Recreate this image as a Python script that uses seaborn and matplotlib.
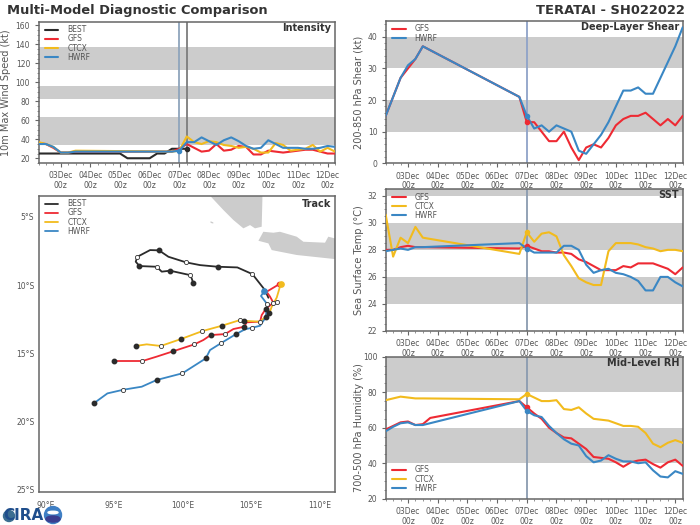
import matplotlib

matplotlib.use("Agg")

import matplotlib.pyplot as plt
import matplotlib.ticker as mticker
import pandas as pd
import seaborn as sns
from matplotlib.patches import Circle, Ellipse

RED = "#EE2A33"
GOLD = "#F2BB1D"
BLUE = "#3A87C4"
BLACK = "#2B2B2B"
GRAY_TEXT = "#555555"
BAND = "#CCCCCC"
TICK_SIZE = 5.5

# 6-hourly times as day of December, data gap between 3.5 and 6.75
days = [2.25, 2.5, 2.75, 3, 3.25, 3.5, 6.75, 7, 7.25, 7.5, 7.75, 8, 8.25, 8.5, 8.75, 9, 9.25,
        9.5, 9.75, 10, 10.25, 10.5, 10.75, 11, 11.25, 11.5, 11.75, 12, 12.25]
tick_days = [3, 4, 5, 6, 7, 8, 9, 10, 11, 12]
tick_labels = ["03Dec\n00z", "04Dec\n00z", "05Dec\n00z", "06Dec\n00z", "07Dec\n00z",
               "08Dec\n00z", "09Dec\n00z", "10Dec\n00z", "11Dec\n00z", "12Dec\n00z"]

best_days = [2.25, 5, 5.25, 6, 6.25, 6.5, 6.75, 7, 7.25]
best_wind = [25, 25, 20, 20, 25, 25, 30, 30, 30]
gfs_wind = [36, 35, 31, 26, 26, 27, 27, 30, 35, 31, 27, 28, 35, 28, 29, 33, 32, 24, 24, 28, 27,
            26, 27, 28, 29, 29, 27, 25, 25]
ctcx_wind = [37, 35, 32, 26, 26, 28, 27, 28, 43, 37, 35, 38, 37, 34, 33, 31, 32, 30, 26, 26, 36,
             34, 28, 29, 30, 34, 27, 31, 27]
hwrf_wind = [35, 35, 32, 26, 26, 27, 27, 28, 37, 37, 42, 38, 34, 39, 42, 38, 33, 30, 31, 39, 35,
             31, 31, 31, 30, 30, 31, 33, 32]

gfs_shear = [15, 21, 27, 30, 33, 37, 21, 13, 13, 10, 7, 7, 10, 5, 1, 5, 6, 5, 8, 12, 14, 15, 15,
             16, 14, 12, 14, 12, 15]
hwrf_shear = [15, 21, 27, 31, 33, 37, 21, 15, 11, 12, 10, 12, 11, 10, 4, 3, 6, 9, 13, 18, 23, 23,
              24, 22, 22, 27, 32, 37, 43]

gfs_sst = [28, 28, 28.2, 28.3, 28.2, 28.2, 28.1, 28.3, 28.1, 27.9, 27.9, 27.8, 27.8, 27.7, 27.3,
           27.1, 26.8, 26.5, 26.5, 26.5, 26.8, 26.7, 27, 27, 27, 26.8, 26.6, 26.2, 26.7]
ctcx_sst = [30.6, 27.5, 28.9, 28.5, 29.7, 28.9, 27.7, 29.3, 28.6, 29.2, 29.3, 29, 27.6, 26.8,
            25.9, 25.6, 25.4, 25.4, 27.9, 28.5, 28.5, 28.5, 28.4, 28.2, 28.1, 27.9, 28, 28, 27.9]
hwrf_sst = [27.9, 28, 28.1, 28, 28.2, 28.2, 28.5, 28.1, 27.8, 27.8, 27.8, 27.8, 28.3, 28.3, 28,
            26.9, 26.3, 26.5, 26.6, 26.3, 26.2, 26, 25.7, 25, 25, 26, 26, 25.6, 25.3]

gfs_rh_days = [2.25, 2.5, 2.75, 3, 3.25, 3.5, 3.75] + days[6:]
gfs_rh = [59, 61, 63, 63.5, 61.5, 62, 65.5, 75, 71.5, 68, 65, 60, 57, 54.5, 54, 51, 48, 43.5, 43,
          42.5, 40.5, 38, 40.5, 41.5, 42, 39.5, 37.5, 40.5, 42, 38.5]
ctcx_rh = [75.5, 76.5, 77.5, 77, 76.5, 76.5, 76, 79, 77, 75, 75, 75.5, 70.5, 70, 71.5, 68, 65,
           64.5, 64, 62.5, 61, 61, 60.5, 57, 51, 49, 51.5, 53, 51.5]
hwrf_rh = [58, 60.5, 62.5, 63, 61.5, 61.5, 75, 69.5, 67, 66, 61, 57, 53.5, 51, 50, 44, 40.5, 41.5,
           44.5, 42.5, 41, 41, 40, 40.5, 36, 32.5, 32, 35.5, 34]

# track points, kind: 0 plain vertex, 1 open circle, 2 filled circle
best_lon = [106.28, 106.03, 105.11, 104.01, 102.57, 101.28, 100.26, 98.97, 98.28, 97.63, 96.70,
            96.58, 96.85, 98.11, 98.48, 99.09, 100.55, 100.67, 100.79]
best_lat = [-10.93, -10.37, -9.20, -8.71, -8.66, -8.54, -8.34, -7.93, -7.46, -7.44, -7.93,
            -8.29, -8.61, -8.66, -9.02, -8.95, -9.27, -9.51, -9.88]
best_kind = [0, 0, 1, 0, 2, 0, 1, 0, 2, 0, 1, 0, 2, 1, 0, 2, 1, 0, 2]
gfs_lon = [107.08, 106.15, 106.40, 106.64, 106.08, 105.79, 105.67, 104.69, 104.52, 103.72, 103.11,
           102.06, 101.53, 100.87, 99.31, 98.11, 97.07, 94.99]
gfs_lat = [-9.93, -10.49, -10.85, -11.29, -11.76, -12.20, -12.68, -12.73, -13.05, -13.22, -13.59,
           -13.66, -14.02, -14.34, -14.85, -15.24, -15.56, -15.56]
gfs_kind = [0, 0, 0, 1, 2, 0, 0, 0, 2, 0, 1, 2, 0, 1, 2, 0, 1, 2]
ctcx_lon = [107.18, 106.89, 106.89, 106.52, 106.35, 105.67, 104.69, 104.52, 104.21, 102.87, 101.45,
            99.89, 98.41, 97.38, 96.58]
ctcx_lat = [-9.93, -10.61, -11.22, -11.59, -12.07, -12.68, -12.63, -12.63, -12.56, -12.98, -13.37,
            -13.95, -14.46, -14.34, -14.46]
ctcx_kind = [0, 0, 1, 0, 2, 1, 0, 2, 1, 2, 1, 2, 1, 0, 2]
hwrf_lon = [105.98, 105.74, 106.20, 106.08, 105.67, 105.11, 104.57, 103.91, 102.79, 102.01, 101.70,
            99.99, 98.11, 97.02, 95.68, 94.51, 93.51]
hwrf_lat = [-10.44, -10.80, -11.41, -12.37, -12.98, -13.12, -13.24, -13.59, -14.27, -14.76, -15.37,
            -16.46, -16.95, -17.44, -17.66, -17.93, -18.66]
hwrf_kind = [0, 0, 1, 2, 0, 1, 0, 2, 1, 0, 2, 1, 2, 0, 1, 0, 2]

sumatra_lon = [102.01, 102.99, 103.72, 104.45, 104.94, 105.30, 105.79, 105.84, 105.84]
sumatra_lat = [-3.46, -4.51, -5.24, -5.85, -5.61, -5.85, -5.73, -3.78, -3.46]
java_lon = [105.91, 105.55, 106.28, 106.52, 108.35, 111.15, 111.15, 110.66, 110.42, 108.84, 108.35,
            107.13, 106.64]
java_lat = [-6.10, -6.76, -6.95, -7.44, -7.80, -8.10, -6.59, -6.46, -6.90, -6.83, -6.46, -6.10, -6.17]
islet_lon = [102.05, 102.25, 102.25, 102.05]
islet_lat = [-5.33, -5.41, -5.50, -5.45]

sns.set_theme(style="white")
plt.rcParams["font.family"] = "DejaVu Sans"

fig = plt.figure(figsize=(7, 5.25), dpi=100)


def make_axes(left, top, right, bottom):
    ax = fig.add_axes([left / 700, 1 - bottom / 525, (right - left) / 700, (bottom - top) / 525])
    for spine in ax.spines.values():
        spine.set_color("#666666")
        spine.set_linewidth(1.1)
    ax.tick_params(colors=GRAY_TEXT, labelsize=TICK_SIZE)
    return ax


def panel_title(ax, title, down=6):
    ax.annotate(title, xy=(1, 1), xycoords="axes fraction", xytext=(-2.5, -down * 0.72),
                textcoords="offset points", ha="right", va="center", fontsize=7,
                fontweight="bold", color="#333333")


def style_series(ax, ylim, yticks, ylabel, bands, title, minor_step, label_offset):
    ax.set_xlim(2.25, 12.25)
    ax.set_ylim(*ylim)
    for low, high in bands:
        ax.axhspan(low, high, color=BAND, lw=0, zorder=0)
    ax.set_xticks(tick_days)
    ax.set_xticklabels(tick_labels, linespacing=1.1)
    ax.set_xticks([2.25 + 0.25 * i for i in range(41)], minor=True)
    ax.set_yticks(yticks)
    ax.yaxis.set_minor_locator(mticker.MultipleLocator(minor_step))
    ax.tick_params(axis="both", which="major", length=3, width=0.8, color="#666666", pad=3,
                   left=True, bottom=True)
    ax.tick_params(axis="both", which="minor", length=1.5, width=0.5, color="#666666",
                   left=True, bottom=True)
    ax.set_ylabel(ylabel, fontsize=7, color=GRAY_TEXT)
    ax.yaxis.set_label_coords(-label_offset / ax.get_window_extent().width, 0.5)
    ax.set_xlabel("")
    panel_title(ax, title)


def draw_series(ax, x, y, color, label, now=None):
    sns.lineplot(x=x, y=y, color=color, lw=1.5, label=label, ax=ax, zorder=3, errorbar=None, sort=False)
    if now is not None:
        ax.plot([now], [y[list(x).index(now)]], "o", color=color, ms=3, zorder=4)


def add_legend(ax, low=False):
    box = ax.get_window_extent()
    anchor = (6.5 / box.width, 6 / box.height) if low else (6.5 / box.width, 1 - 3.5 / box.height)
    ax.legend(loc="lower left" if low else "upper left", bbox_to_anchor=anchor, frameon=False,
              fontsize=TICK_SIZE, labelcolor=GRAY_TEXT, handlelength=1.75, labelspacing=0.02,
              handletextpad=1.2, borderaxespad=0, borderpad=0)


# Intensity
ax = make_axes(38.5, 21.7, 335, 163)
style_series(ax, (15, 164), [20, 40, 60, 80, 100, 120, 140, 160], "10m Max Wind Speed (kt)",
             [(34, 64), (83, 96), (113, 137)], "Intensity", 5, 27.5)
ax.axvline(7, color="#8FA5BC", lw=1.3, zorder=2)
ax.axvline(7.25, color="#7D7D7D", lw=1.3, zorder=2)
draw_series(ax, best_days, best_wind, BLACK, "BEST", now=7.25)
draw_series(ax, days, gfs_wind, RED, "GFS")
draw_series(ax, days, ctcx_wind, GOLD, "CTCX")
draw_series(ax, days, hwrf_wind, BLUE, "HWRF", now=7)
add_legend(ax)

# Deep-layer shear
ax = make_axes(385.7, 21, 682.7, 163.3)
style_series(ax, (0, 45), [0, 10, 20, 30, 40], "200-850 hPa Shear (kt)", [(10, 20), (30, 40)],
             "Deep-Layer Shear", 2, 21.7)
ax.axvline(7, color="#8FA3C8", lw=1.3, zorder=2)
draw_series(ax, days, gfs_shear, RED, "GFS", now=7)
draw_series(ax, days, hwrf_shear, BLUE, "HWRF", now=7)
add_legend(ax)

# SST
ax = make_axes(385.7, 189, 682.7, 331)
style_series(ax, (22, 32.5), [22, 24, 26, 28, 30, 32], "Sea Surface Temp (°C)",
             [(24, 26), (28, 30), (32, 33)], "SST", 0.5, 21.7)
ax.axvline(7, color="#8A9BB0", lw=1.3, zorder=2)
draw_series(ax, days, gfs_sst, RED, "GFS", now=7)
draw_series(ax, days, ctcx_sst, GOLD, "CTCX", now=7)
draw_series(ax, days, hwrf_sst, BLUE, "HWRF", now=7)
add_legend(ax)

# Mid-level RH
ax = make_axes(385.7, 356.7, 682.7, 498.7)
style_series(ax, (20, 100), [20, 40, 60, 80, 100], "700-500 hPa Humidity (%)", [(40, 60), (80, 100)],
             "Mid-Level RH", 5, 21.7)
ax.axvline(7, color="#8A9BB0", lw=1.3, zorder=2)
draw_series(ax, gfs_rh_days, gfs_rh, RED, "GFS", now=7)
draw_series(ax, days, ctcx_rh, GOLD, "CTCX", now=7)
draw_series(ax, days, hwrf_rh, BLUE, "HWRF", now=7)
add_legend(ax, low=True)

# Track map
ax = make_axes(38.5, 195.7, 335, 492.3)
ax.fill(sumatra_lon, sumatra_lat, color=BAND, lw=0, zorder=1)
ax.fill(java_lon, java_lat, color=BAND, lw=0, zorder=1)
ax.fill(islet_lon, islet_lat, color=BAND, lw=0, zorder=1)
tracks = [("BEST", best_lon, best_lat, best_kind, BLACK), ("GFS", gfs_lon, gfs_lat, gfs_kind, RED),
          ("CTCX", ctcx_lon, ctcx_lat, ctcx_kind, GOLD), ("HWRF", hwrf_lon, hwrf_lat, hwrf_kind, BLUE)]
for name, lon, lat, kind, color in tracks:
    track = pd.DataFrame({"lon": lon, "lat": lat, "kind": kind})
    sns.lineplot(data=track, x="lon", y="lat", color=color, lw=1.3, label=name, ax=ax, sort=False,
                 errorbar=None, zorder=3)
    ax.plot(track.lon[track.kind == 1], track.lat[track.kind == 1], "o", mfc="white", mec="#333333",
            mew=0.6, ms=3, zorder=5, ls="none")
    ax.plot(track.lon[track.kind == 2], track.lat[track.kind == 2], "o", color=BLACK, ms=3.2, zorder=5,
            ls="none")
ax.plot([gfs_lon[0]], [gfs_lat[0]], "o", color=RED, ms=3, zorder=4)
ax.plot([ctcx_lon[0]], [ctcx_lat[0]], "o", color=GOLD, ms=3.8, zorder=4)
ax.plot([hwrf_lon[0]], [hwrf_lat[0]], "o", color=BLUE, ms=3.8, zorder=4)
ax.set_xlim(89.47, 111.15)
ax.set_ylim(-25.17, -3.46)
ax.set_xticks([90, 95, 100, 105, 110])
ax.set_xticklabels(["90°E", "95°E", "100°E", "105°E", "110°E"])
ax.set_yticks([-5, -10, -15, -20, -25])
ax.set_yticklabels(["5°S", "10°S", "15°S", "20°S", "25°S"])
ax.tick_params(axis="x", length=0, pad=6)
ax.tick_params(axis="y", length=0, pad=3)
ax.set_xlabel("")
ax.set_ylabel("")
panel_title(ax, "Track", down=8)
add_legend(ax)

# Titles
fig.text(7 / 700, 1 - 10.5 / 525, "Multi-Model Diagnostic Comparison", ha="left", va="center",
         fontsize=9.4, fontweight="bold", color="#333333")
fig.text(685 / 700, 1 - 10.5 / 525, "TERATAI - SH022022", ha="right", va="center",
         fontsize=9.4, fontweight="bold", color="#333333")

# CIRA logo, bottom left
logo = fig.add_axes([0, 0, 70 / 700, 35 / 525])
logo.set_xlim(0, 70)
logo.set_ylim(0, 35)
logo.axis("off")
logo.text(3, 9, "CIRA", fontsize=11, fontweight="bold", color="#1F4E8C", va="center", ha="left")
logo.add_patch(Circle((53, 10), 8.5, color="#3F7FC4", zorder=3))
logo.add_patch(Ellipse((53, 6), 14, 6, color="#3B3E8F", zorder=4))
logo.add_patch(Ellipse((53, 12.5), 10, 2.5, color="white", zorder=4))
logo.add_patch(Circle((9, 9), 5.5, color="#3C6E91", zorder=2))

fig.savefig("out.png", dpi=100)
plt.close(fig)
